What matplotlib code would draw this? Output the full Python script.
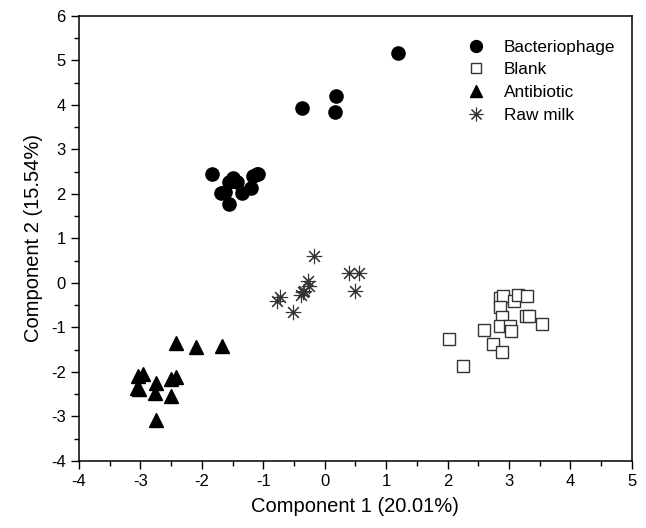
import matplotlib.pyplot as plt
from matplotlib.ticker import MultipleLocator

plt.rcParams['font.family'] = ['Liberation Sans', 'DejaVu Sans']
plt.rcParams['axes.unicode_minus'] = False

# scores
phage_x = [1.19, 0.18, 0.16, -0.37, -1.83, -1.10, -1.16, -1.08, -1.50, -1.42, -1.55,
           -1.20, -1.35, -1.69, -1.55, -1.62, -1.48]
phage_y = [5.17, 4.21, 3.84, 3.93, 2.44, 2.44, 2.40, 2.45, 2.35, 2.26, 2.26,
           2.14, 2.02, 2.02, 1.78, 2.05, 2.30]

blank_x = [2.85, 2.90, 3.08, 3.15, 3.30, 2.85, 2.88, 3.27, 3.33, 3.54, 2.59, 2.85,
           3.01, 3.03, 2.02, 2.74, 2.88, 2.26]
blank_y = [-0.33, -0.29, -0.41, -0.28, -0.29, -0.54, -0.77, -0.74, -0.74, -0.93, -1.06, -0.96,
           -0.96, -1.07, -1.27, -1.37, -1.56, -1.87]

anti_x = [-2.42, -2.09, -1.67, -2.95, -3.04, -2.74, -2.50, -2.42, -3.06, -3.03, -2.76, -2.50, -2.74]
anti_y = [-1.35, -1.44, -1.42, -2.05, -2.10, -2.25, -2.15, -2.12, -2.36, -2.39, -2.48, -2.53, -3.08]

raw_x = [-0.17, 0.40, 0.56, 0.49, -0.27, -0.25, -0.35, -0.38, -0.72, -0.78, -0.52, -0.33]
raw_y = [0.61, 0.23, 0.23, -0.18, 0.05, -0.07, -0.20, -0.27, -0.31, -0.41, -0.65, -0.18]

fig = plt.figure(figsize=(6.46, 5.28), dpi=100)
ax = fig.add_axes([0.1223, 0.127, 0.8557, 0.843])

ax.plot(phage_x, phage_y, 'o', color='black', markersize=9.5, linestyle='none', label='Bacteriophage')
ax.plot(blank_x, blank_y, 's', markerfacecolor='white', markeredgecolor='#333333',
        markeredgewidth=1.0, markersize=8, linestyle='none', label='Blank')
ax.plot(anti_x, anti_y, '^', color='black', markersize=9.5, linestyle='none', label='Antibiotic')
ax.plot(raw_x, raw_y, marker=(8, 2, 0), color='#333333', markeredgewidth=0.8,
        markersize=11, linestyle='none', label='Raw milk')

ax.set_xlim(-4, 5)
ax.set_ylim(-4, 6)
ax.xaxis.set_major_locator(MultipleLocator(1))
ax.xaxis.set_minor_locator(MultipleLocator(0.5))
ax.yaxis.set_major_locator(MultipleLocator(1))
ax.yaxis.set_minor_locator(MultipleLocator(0.5))
ax.tick_params(which='major', direction='out', length=6, width=1, labelsize=12)
ax.tick_params(which='minor', direction='out', length=3.5, width=1)
for s in ax.spines.values():
    s.set_linewidth(1.1)

ax.set_xlabel('Component 1 (20.01%)', fontsize=14.5, labelpad=6)
ax.set_ylabel('Component 2 (15.54%)', fontsize=14.5, labelpad=6)

ax.legend(loc='upper right', bbox_to_anchor=(1.011, 0.997), frameon=False, fontsize=12.4,
          handletextpad=0.6, labelspacing=0.45, borderpad=0.8, markerscale=0.9)

fig.savefig('out.png', dpi=100)
